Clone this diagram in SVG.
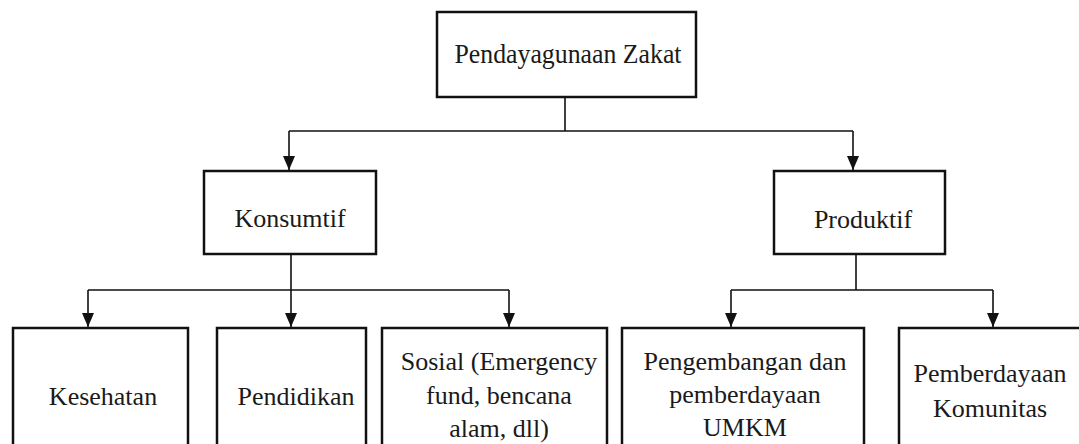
<svg xmlns="http://www.w3.org/2000/svg" width="1079" height="444" viewBox="0 0 1079 444">
<style>
.box{fill:#fff;stroke:#111;stroke-width:2.5}
.t{font-family:'Liberation Serif','DejaVu Serif',serif;font-size:26px;fill:#1a1a1a;text-anchor:middle}
.c{fill:none;stroke:#111;stroke-width:1.6}
</style>
<defs>
<marker id="ah" markerWidth="14" markerHeight="12" refX="14" refY="6" orient="auto" markerUnits="userSpaceOnUse" viewBox="0 0 14 12">
<path d="M0,0 L14,6 L0,12 Z" fill="#111"/>
</marker>
</defs>
<rect width="1079" height="444" fill="#fff"/>
<g id="connectors">
<path class="c" d="M565,97 V131 M289,131 H853"/>
<path class="c" d="M289,131 V170" marker-end="url(#ah)"/>
<path class="c" d="M853,131 V170" marker-end="url(#ah)"/>
<path class="c" d="M291,254 V290 M88,290 H509"/>
<path class="c" d="M88,290 V327" marker-end="url(#ah)"/>
<path class="c" d="M291,290 V327" marker-end="url(#ah)"/>
<path class="c" d="M509,290 V327" marker-end="url(#ah)"/>
<path class="c" d="M856,254 V290 M731,290 H993"/>
<path class="c" d="M731,290 V327" marker-end="url(#ah)"/>
<path class="c" d="M993,290 V327" marker-end="url(#ah)"/>
</g>
<g font-family="Liberation Serif, serif">
<g id="n-zakat">
<rect class="box" x="437" y="12" width="259" height="85"/>
<text class="t" x="568" y="63" textLength="227" lengthAdjust="spacingAndGlyphs" style="font-size:28px">Pendayagunaan Zakat</text>
</g>
<g id="n-konsumtif">
<rect class="box" x="204" y="171" width="172" height="83"/>
<text class="t" x="290" y="227">Konsumtif</text>
</g>
<g id="n-produktif">
<rect class="box" x="774" y="171" width="171" height="83"/>
<text class="t" x="863" y="228">Produktif</text>
</g>
<g id="n-kesehatan">
<rect class="box" x="13" y="328" width="175" height="130"/>
<text class="t" x="103" y="405">Kesehatan</text>
</g>
<g id="n-pendidikan">
<rect class="box" x="217" y="328" width="149" height="130"/>
<text class="t" x="296" y="405">Pendidikan</text>
</g>
<g id="n-sosial">
<rect class="box" x="382" y="328" width="225" height="130"/>
<text class="t" x="499" y="370">Sosial (Emergency</text>
<text class="t" x="499" y="404">fund, bencana</text>
<text class="t" x="499" y="437">alam, dll)</text>
</g>
<g id="n-umkm">
<rect class="box" x="622" y="328" width="242" height="130"/>
<text class="t" x="745" y="370">Pengembangan dan</text>
<text class="t" x="745" y="403">pemberdayaan</text>
<text class="t" x="745" y="436">UMKM</text>
</g>
<g id="n-komunitas">
<rect class="box" x="899" y="328" width="183" height="130"/>
<text class="t" x="990" y="382">Pemberdayaan</text>
<text class="t" x="990" y="417">Komunitas</text>
</g>
</g>
</svg>
